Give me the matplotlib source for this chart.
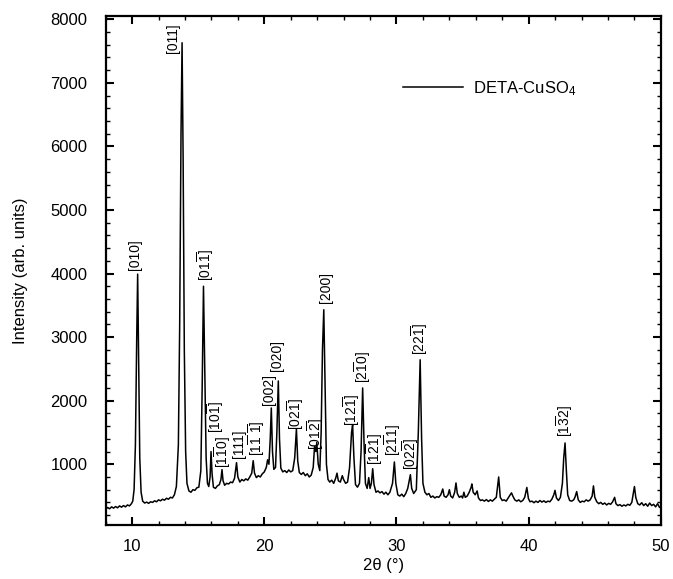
import matplotlib
matplotlib.use("Agg")
import matplotlib.pyplot as plt
from matplotlib.ticker import MultipleLocator

plt.rcParams['font.family'] = ['Liberation Sans', 'DejaVu Sans']
plt.rcParams['mathtext.fontset'] = 'custom'
plt.rcParams['mathtext.rm'] = 'Liberation Sans'
plt.rcParams['mathtext.it'] = 'Liberation Sans'

# diffractogram
two_theta = [
    8.0, 8.15, 8.3, 8.45, 8.6, 8.75, 8.9, 9.05, 9.2, 9.35, 9.5, 9.65, 9.8, 9.95,
    10.05, 10.15, 10.25, 10.35, 10.42, 10.5, 10.58, 10.68, 10.8,
    10.95, 11.1, 11.25, 11.4, 11.55, 11.7, 11.85, 12.0, 12.15, 12.3, 12.45, 12.6,
    12.75, 12.9, 13.05, 13.2, 13.35, 13.5, 13.6, 13.7, 13.78, 13.86, 13.95, 14.05,
    14.15, 14.3, 14.45, 14.6, 14.75, 14.9, 15.05, 15.2, 15.3, 15.4, 15.5, 15.6,
    15.7, 15.8, 15.9, 15.97, 16.05, 16.15, 16.3, 16.45, 16.6, 16.72, 16.8, 16.88,
    17.0, 17.15, 17.3, 17.45, 17.6, 17.75, 17.9, 18.0, 18.15, 18.3, 18.45, 18.6,
    18.75, 18.9, 19.05, 19.16, 19.26, 19.4, 19.55, 19.7, 19.85, 20.0, 20.15, 20.25,
    20.35, 20.45, 20.53, 20.62, 20.72, 20.85, 20.95, 21.06, 21.15, 21.25, 21.4,
    21.55, 21.7, 21.85, 22.0, 22.15, 22.3, 22.43, 22.53, 22.65, 22.8, 22.95, 23.1,
    23.25, 23.4, 23.55, 23.7, 23.8, 23.9, 23.97, 24.08, 24.2, 24.3, 24.4, 24.5,
    24.6, 24.7, 24.82, 24.95, 25.1, 25.25, 25.4, 25.5, 25.6, 25.75, 25.9, 26.0,
    26.15, 26.3, 26.45, 26.6, 26.68, 26.78, 26.9, 27.05, 27.2, 27.32, 27.44, 27.55,
    27.65, 27.78, 27.9, 28.0, 28.1, 28.2, 28.3, 28.45, 28.6, 28.75, 28.9, 29.05,
    29.2, 29.35, 29.5, 29.7, 29.84, 29.95, 30.1, 30.25, 30.4, 30.55, 30.7, 30.85,
    31.05, 31.15, 31.3, 31.5, 31.65, 31.79, 31.9, 32.0, 32.15, 32.3, 32.45, 32.6,
    32.75, 32.9, 33.05, 33.2, 33.35, 33.5, 33.6, 33.75, 33.9, 34.0, 34.1, 34.25,
    34.4, 34.5, 34.6, 34.75, 34.9, 35.0, 35.1, 35.2, 35.35, 35.5, 35.65, 35.7,
    35.8, 35.95, 36.1, 36.2, 36.35, 36.5, 36.65, 36.8, 36.95, 37.1, 37.25, 37.4,
    37.55, 37.73, 37.85, 38.0, 38.15, 38.3, 38.45, 38.6, 38.7, 38.8, 38.95, 39.1,
    39.25, 39.4, 39.55, 39.7, 39.86, 39.98, 40.1, 40.25, 40.4, 40.55, 40.7, 40.85,
    41.0, 41.15, 41.3, 41.45, 41.6, 41.75, 41.9, 41.99, 42.1, 42.25, 42.4, 42.55,
    42.65, 42.75, 42.85, 42.95, 43.1, 43.25, 43.4, 43.5, 43.63, 43.75, 43.9, 44.05,
    44.2, 44.35, 44.5, 44.65, 44.8, 44.9, 45.0, 45.15, 45.3, 45.45, 45.6, 45.75,
    45.9, 46.05, 46.2, 46.35, 46.5, 46.6, 46.75, 46.9, 47.05, 47.2, 47.35, 47.5,
    47.65, 47.8, 47.9, 48.0, 48.1, 48.25, 48.4, 48.55, 48.7, 48.85, 49.0, 49.15,
    49.3, 49.45, 49.6, 49.75, 49.9, 50.0,
]
intensity = [
    290, 320, 300, 330, 310, 335, 315, 345, 325, 350, 330, 360, 345, 380,
    420, 600, 1300, 3000, 3990, 2600, 1100, 560, 420,
    390, 405, 385, 410, 400, 425, 410, 440, 425, 450, 435, 465,
    450, 480, 470, 520, 650, 1300, 3200, 6200, 7630, 5800, 2800, 1200,
    700, 580, 560, 600, 590, 630, 640, 900, 2200, 3800, 2500, 1100,
    700, 650, 800, 1200, 850, 640, 620, 660, 680, 760, 915, 740,
    670, 700, 690, 720, 710, 780, 1025, 800, 720, 760, 740, 770,
    750, 800, 860, 1056, 860, 790, 820, 800, 850, 880, 950, 1070,
    1000, 1400, 1885, 1200, 920, 950, 1500, 2310, 1400, 940, 880,
    900, 870, 910, 880, 900, 1100, 1555, 1050, 870, 840, 870, 820,
    850, 800, 830, 950, 1280, 1200, 1344, 1000, 900, 1500, 2800, 3430,
    2200, 1000, 760, 720, 750, 700, 780, 860, 740, 720, 820, 760,
    700, 720, 950, 1500, 1622, 1100, 680, 640, 700, 1200, 2200, 1300,
    700, 620, 790, 620, 700, 930, 680, 560, 580, 550, 570, 530,
    560, 520, 560, 700, 1036, 700, 520, 500, 530, 490, 540, 620,
    836, 620, 540, 600, 1500, 2644, 1400, 700, 560, 520, 540, 480,
    500, 470, 490, 480, 520, 611, 500, 480, 520, 600, 500, 470,
    560, 706, 540, 480, 500, 470, 560, 480, 500, 560, 640, 690,
    560, 520, 580, 470, 430, 440, 420, 445, 415, 440, 420, 450,
    480, 800, 480, 430, 440, 420, 470, 520, 550, 500, 440, 420,
    440, 410, 430, 480, 635, 460, 410, 420, 395, 420, 400, 430,
    405, 425, 400, 420, 410, 450, 520, 590, 470, 430, 480, 700,
    1100, 1335, 900, 520, 430, 420, 440, 480, 570, 440, 400, 420,
    410, 440, 420, 440, 500, 660, 480, 410, 380, 400, 370, 390,
    360, 385, 370, 410, 480, 380, 350, 365, 340, 360, 345, 370,
    355, 400, 520, 650, 480, 380, 360, 395, 350, 380, 340, 390,
    350, 370, 330, 380, 320, 340,
]

# peak indexing labels: text, peak position (2theta), label base intensity
peak_labels = [
    r'[010]', r'[011]', r'[01$\overline{1}$]', r'[10$\overline{1}$]',
    r'[1$\overline{1}$0]', r'[111]', r'[1$\overline{1}$ $\overline{1}$]',
    r'[002]', r'[020]', r'[02$\overline{1}$]', r'[01$\overline{2}$]', r'[200]',
    r'[12$\overline{1}$]', r'[2$\overline{1}$0]', r'[1$\overline{2}$1]',
    r'[2$\overline{1}$1]', r'[02$\overline{2}$]', r'[22$\overline{1}$]',
    r'[1$\overline{3}$2]',
]
label_x = [10.23, 13.11, 15.54, 16.3, 16.86, 18.06, 19.41, 20.35, 20.98, 22.37,
           23.89, 24.65, 26.6, 27.45, 28.35, 29.75, 31.05, 31.79, 42.75]
label_y = [4060, 7470, 3875, 1496, 946, 1100, 1135, 1930, 2460, 1544,
           1230, 3536, 1595, 2283, 993, 1124, 915, 2723, 1434]

fig = plt.figure(figsize=(6.73, 5.79), dpi=100)
ax = fig.add_axes([0.157, 0.0933, 0.825, 0.879])

ax.plot(two_theta, intensity, color='black', lw=1.1, label='DETA-CuSO$_4$')

for txt, x, y in zip(peak_labels, label_x, label_y):
    ax.text(x, y, txt, rotation=90, ha='center', va='bottom', fontsize=10)

ax.set_xlim(8, 50)
ax.set_ylim(45, 8050)
ax.xaxis.set_major_locator(MultipleLocator(10))
ax.xaxis.set_minor_locator(MultipleLocator(2))
ax.yaxis.set_minor_locator(MultipleLocator(200))
ax.set_yticks([1000, 2000, 3000, 4000, 5000, 6000, 7000, 8000])
ax.tick_params(which='both', direction='in', top=True, right=True, labelsize=12)
ax.tick_params(which='major', length=6, width=1.5)
ax.tick_params(axis='x', which='major', pad=10)
ax.tick_params(axis='y', which='major', pad=13)
ax.tick_params(which='minor', length=3, width=1.0)
for s in ax.spines.values():
    s.set_linewidth(1.6)

ax.set_xlabel('2θ (°)', fontsize=12, labelpad=3)
ax.set_ylabel('Intensity (arb. units)', fontsize=12, labelpad=16)

ax.legend(loc='center left', bbox_to_anchor=(0.535, 0.858), frameon=False,
          fontsize=12, handlelength=3.6, handletextpad=0.6,
          borderpad=0, borderaxespad=0)

fig.savefig('out.png', dpi=100)
